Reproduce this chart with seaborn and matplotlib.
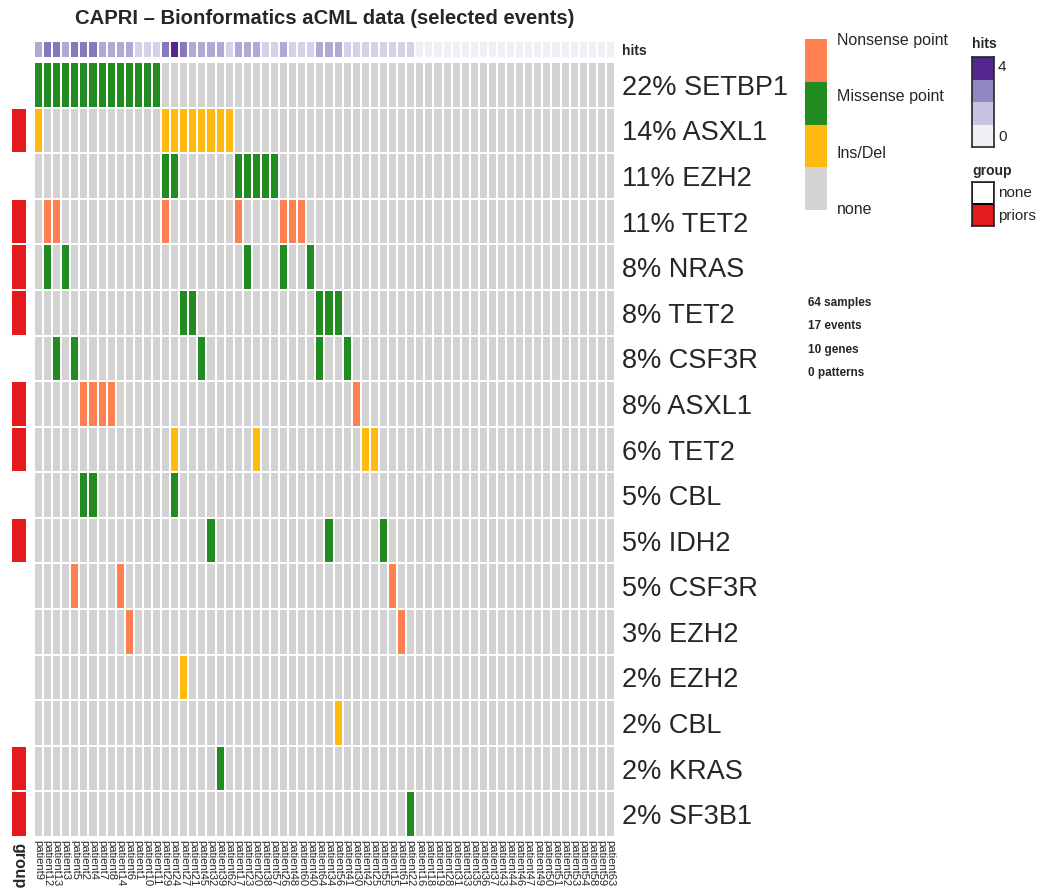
import numpy as np
import pandas as pd
import seaborn as sns
import matplotlib.pyplot as plt
from matplotlib.colors import ListedColormap

sns.set_style('white')
plt.rcParams['font.family'] = ['Liberation Sans', 'DejaVu Sans']

## events (rows) in plot order
genes = ['SETBP1', 'ASXL1', 'EZH2', 'TET2', 'NRAS', 'TET2', 'CSF3R', 'ASXL1', 'TET2',
         'CBL', 'IDH2', 'CSF3R', 'EZH2', 'EZH2', 'CBL', 'KRAS', 'SF3B1']
## 1 = Nonsense point, 2 = Missense point, 3 = Ins/Del
ev_type = [2, 3, 2, 1, 2, 2, 2, 1, 3, 2, 2, 1, 1, 3, 3, 2, 2]
priors = [0, 1, 0, 1, 1, 1, 0, 1, 1, 0, 1, 0, 0, 0, 0, 1, 1]
## column index of the samples hit by each event
ev_hits = [
    list(range(0, 14)),
    [0, 14, 15, 16, 17, 18, 19, 20, 21],
    [14, 15, 22, 23, 24, 25, 26],
    [1, 2, 14, 22, 27, 28, 29],
    [1, 3, 23, 27, 30],
    [16, 17, 31, 32, 33],
    [2, 4, 18, 31, 34],
    [5, 6, 7, 8, 35],
    [15, 24, 36, 37],
    [5, 6, 15],
    [19, 32, 38],
    [4, 9, 39],
    [10, 40],
    [16],
    [33],
    [20],
    [41],
]
patients = [9, 12, 13, 3, 5, 2, 4, 7, 8, 14, 6, 1, 10, 11,
            29, 24, 27, 21, 45, 32, 39, 62, 17, 23, 20, 38, 57, 26, 48, 60, 40, 64,
            34, 56, 41, 30, 42, 25, 55, 15, 61, 22,
            16, 18, 19, 28, 31, 33, 35, 36, 37, 43, 44, 46, 47, 49, 50, 51, 52, 53,
            54, 58, 59, 63]
samples = ['patient' + str(p) for p in patients]

n_s = len(samples)
mat = np.zeros((len(genes), n_s), dtype=int)
for i, cols in enumerate(ev_hits):
    mat[i, cols] = ev_type[i]
hits = (mat > 0).sum(axis=0)
pct = [round(100 * len(c) / n_s) for c in ev_hits]
row_lab = ['%d%% %s' % (p, g) for p, g in zip(pct, genes)]

mut_cols = ['#D3D3D3', '#FF7F50', '#228B22', '#FFB90F']
hit_cols = ['#F0EFF6', '#D4D2E8', '#ADAAD4', '#8678BC', '#54278F']

W, H = 1041, 893
fig = plt.figure(figsize=(W / 100, H / 100), dpi=100)

def fax(x0, y0, x1, y1):
    return fig.add_axes([x0 / W, 1 - y1 / H, (x1 - x0) / W, (y1 - y0) / H])

## main oncoprint
ax = fax(34, 62, 615, 837)
df = pd.DataFrame(mat, index=row_lab, columns=samples)
sns.heatmap(df, ax=ax, cmap=ListedColormap(mut_cols), vmin=-0.5, vmax=3.5,
            cbar=False, linewidths=1.3, linecolor='white',
            xticklabels=True, yticklabels=True)
ax.yaxis.tick_right()
ax.set_yticklabels(row_lab, rotation=0, fontsize=19.5)
ax.set_xticklabels(samples, rotation=270, fontsize=8)
ax.tick_params(axis='y', length=0, pad=5)
ax.tick_params(axis='x', length=0, pad=2)
ax.set_xlabel('')
ax.set_ylabel('')

## hits annotation
axh = fax(34, 41, 615, 58)
sns.heatmap(pd.DataFrame([hits], index=['hits']), ax=axh,
            cmap=ListedColormap(hit_cols), vmin=-0.5, vmax=4.5, cbar=False,
            linewidths=1.3, linecolor='white', xticklabels=False, yticklabels=True)
axh.yaxis.tick_right()
axh.set_yticklabels(['hits'], rotation=0, fontsize=10, fontweight='bold')
axh.tick_params(axis='y', length=0, pad=5)

## group annotation
axg = fax(10.5, 62, 27, 837)
sns.heatmap(pd.DataFrame({'group': priors}), ax=axg,
            cmap=ListedColormap(['white', '#E41A1C']), vmin=0, vmax=1, cbar=False,
            linewidths=1.3, linecolor='white', xticklabels=True, yticklabels=False)
axg.set_xticklabels(['group'], rotation=270, fontsize=11.5, fontweight='bold')
axg.tick_params(axis='x', length=0, pad=4)

## title
fig.text(325 / W, 1 - 18 / H, 'CAPRI \u2013 Bionformatics aCML data (selected events)',
         ha='center', va='center', fontsize=14.6, fontweight='bold')

## mutation type legend
axl = fax(805, 39, 827, 210)
sns.heatmap(np.array([[1], [2], [3], [0]]), ax=axl, cmap=ListedColormap(mut_cols),
            vmin=-0.5, vmax=3.5, cbar=False, xticklabels=False, yticklabels=False)
for y, t in zip([40, 96, 153, 210], ['Nonsense point', 'Missense point', 'Ins/Del', 'none']):
    fig.text(837 / W, 1 - y / H, t, ha='left', va='center', fontsize=11.5)

## hits legend
axc = fax(972, 57, 994, 147)
sns.heatmap(np.array([[3], [2], [1], [0]]), ax=axc,
            cmap=ListedColormap(['#F0EFF6', '#C6C4E1', '#8F88C0', '#54278F']),
            vmin=-0.5, vmax=3.5, cbar=False, xticklabels=False, yticklabels=False)
for s in axc.spines.values():
    s.set_visible(True)
    s.set_linewidth(1.2)
fig.text(972 / W, 1 - 44 / H, 'hits', ha='left', va='center', fontsize=10, fontweight='bold')
fig.text(998 / W, 1 - 67 / H, '4', ha='left', va='center', fontsize=11)
fig.text(998 / W, 1 - 137 / H, '0', ha='left', va='center', fontsize=11)

## group legend
axgl = fax(972, 182, 994, 226)
sns.heatmap(np.array([[0], [1]]), ax=axgl, cmap=ListedColormap(['white', '#E41A1C']),
            vmin=0, vmax=1, cbar=False, linewidths=1.2, linecolor='black',
            xticklabels=False, yticklabels=False)
for s in axgl.spines.values():
    s.set_visible(True)
    s.set_linewidth(1.2)
fig.text(972 / W, 1 - 171 / H, 'group', ha='left', va='center', fontsize=10, fontweight='bold')
fig.text(998 / W, 1 - 193 / H, 'none', ha='left', va='center', fontsize=11)
fig.text(998 / W, 1 - 216 / H, 'priors', ha='left', va='center', fontsize=11)

## summary text
for y, t in zip([303, 326, 350, 373], ['64 samples', '17 events', '10 genes', '0 patterns']):
    fig.text(808 / W, 1 - y / H, t, ha='left', va='center', fontsize=8.5, fontweight='bold')

fig.savefig('out.png', dpi=100)
